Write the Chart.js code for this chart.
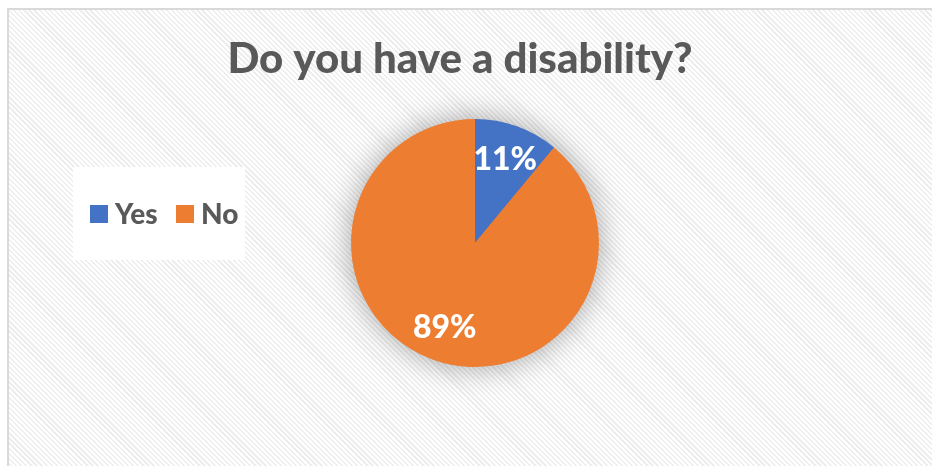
<!DOCTYPE html>
<html>
<head>
<meta charset="utf-8">
<script src="https://cdn.jsdelivr.net/npm/chart.js@4/dist/chart.umd.min.js"></script>
<style>
  html, body { margin: 0; padding: 0; background: #ffffff; }
  #wrap { position: relative; width: 932px; height: 466px; overflow: hidden; }
  #frame {
    position: absolute; left: 7px; top: 8px; width: 1000px; height: 600px;
    border-left: 2px solid #d9d9d9; border-top: 2px solid #d9d9d9;
    background: repeating-linear-gradient(45deg, #ffffff 0px, #ffffff 2px, #eeeeee 2px, #eeeeee 3.6px);
  }
  #chart { position: absolute; left: 0; top: 0; }
</style>
</head>
<body>
<div id="wrap">
  <div id="frame"></div>
  <canvas id="chart" width="932" height="466"></canvas>
</div>
<script>
const TITLE = 'Do you have a disability?';
const CATEGORIES = ['Yes', 'No'];
const VALUES = [11, 89];
const COLORS = ['#4472C4', '#ED7D31'];
const TEXT_COLOR = '#595959';
const FONT = 'Lato, "Open Sans", sans-serif';

const overlayPlugin = {
  id: 'overlay',
  beforeDatasetsDraw(chart) {
    // soft glow behind the whole pie, drawn once so slices do not shade each other
    const ctx = chart.ctx;
    const arc = chart.getDatasetMeta(0).data[0];
    if (!arc) return;
    const { x, y, outerRadius } = arc.getProps(['x', 'y', 'outerRadius'], true);
    ctx.save();
    ctx.shadowColor = 'rgba(0, 0, 0, 0.38)';
    ctx.shadowBlur = 32;
    ctx.fillStyle = COLORS[1];
    ctx.beginPath();
    ctx.arc(x, y, outerRadius - 1, 0, Math.PI * 2);
    ctx.fill();
    ctx.restore();
  },
  afterDatasetsDraw(chart) {
    const ctx = chart.ctx;
    // percentage labels inside slices
    const meta = chart.getDatasetMeta(0);
    const total = VALUES.reduce((a, b) => a + b, 0);
    ctx.save();
    ctx.fillStyle = '#ffffff';
    ctx.font = '900 32px ' + FONT;
    ctx.textAlign = 'center';
    ctx.textBaseline = 'middle';
    meta.data.forEach((arc, i) => {
      const { x, y, startAngle, endAngle, outerRadius } = arc.getProps(['x', 'y', 'startAngle', 'endAngle', 'outerRadius'], true);
      const mid = (startAngle + endAngle) / 2;
      const r = outerRadius * 0.72;
      const pct = Math.round(VALUES[i] / total * 100) + '%';
      ctx.fillText(pct, x + Math.cos(mid) * r, y + Math.sin(mid) * r + 1);
    });
    ctx.restore();
  },
  afterDraw(chart) {
    const ctx = chart.ctx;
    ctx.save();

    // title
    ctx.fillStyle = TEXT_COLOR;
    ctx.font = '900 42px ' + FONT;
    ctx.textAlign = 'center';
    ctx.textBaseline = 'alphabetic';
    ctx.fillText(TITLE, 460, 73);

    // legend
    ctx.fillStyle = '#ffffff';
    ctx.fillRect(73, 167, 172, 93);
    ctx.font = '900 28px ' + FONT;
    ctx.textAlign = 'left';
    const boxX = [90, 176];
    CATEGORIES.forEach((label, i) => {
      ctx.fillStyle = COLORS[i];
      ctx.fillRect(boxX[i], 205, 18, 18);
      ctx.fillStyle = TEXT_COLOR;
      ctx.fillText(label, boxX[i] + 25, 224);
    });
    ctx.restore();
  }
};

new Chart(document.getElementById('chart'), {
  type: 'pie',
  data: {
    labels: CATEGORIES,
    datasets: [{
      data: VALUES,
      backgroundColor: COLORS,
      borderWidth: 0
    }]
  },
  options: {
    responsive: false,
    animation: false,
    layout: { padding: { top: 119, bottom: 99, left: 18, right: 0 } },
    plugins: {
      legend: { display: false },
      title: { display: false },
      tooltip: { enabled: false }
    }
  },
  plugins: [overlayPlugin]
});
</script>
</body>
</html>
